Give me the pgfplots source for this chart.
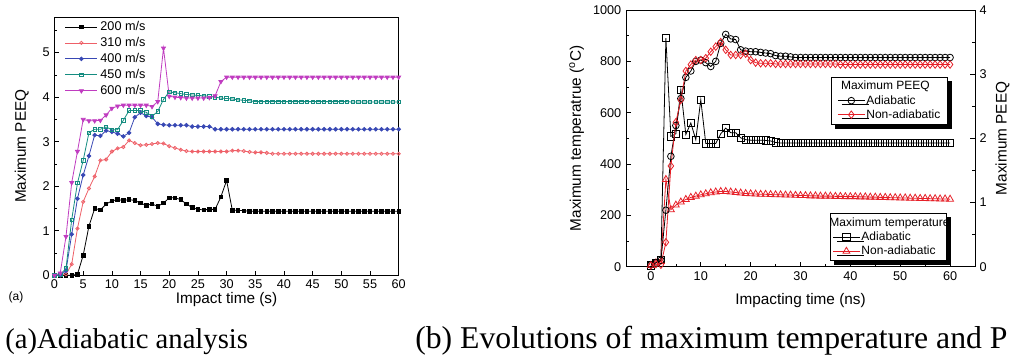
\documentclass[border=0pt]{standalone}
\usepackage{fontspec}
\setmainfont{Liberation Sans}
\newfontfamily\capfont{Liberation Serif}
\usepackage{pgfplots}
\pgfplotsset{compat=1.18}
\usepackage{pgfplotstable}
\definecolor{c310}{RGB}{238,96,104}
\definecolor{c400}{RGB}{56,72,180}
\definecolor{c450}{RGB}{20,140,128}
\definecolor{c600}{RGB}{192,60,192}
\definecolor{rred}{RGB}{230,32,40}

\pgfplotstableread{
t s200 s310 s400 s450 s600
0 0 0 0 0 0
1 0 0 0 0.02 0.05
2 0 0.02 0.10 0.15 0.87
3 0 0.25 0.92 1.25 2.08
4 0.02 1.05 1.72 2.07 2.78
5 0.45 1.65 2.25 2.58 3.50
6 1.10 1.95 2.68 3.20 3.47
7 1.50 2.22 3.15 3.28 3.47
8 1.47 2.58 3.13 3.28 3.48
9 1.60 2.60 3.25 3.33 3.60
10 1.67 2.78 3.22 3.27 3.75
11 1.70 2.85 3.18 3.27 3.80
12 1.68 2.88 3.12 3.48 3.82
13 1.70 3.03 3.20 3.70 3.82
14 1.68 2.97 3.55 3.70 3.82
15 1.62 2.92 3.65 3.70 3.82
16 1.57 2.93 3.58 3.66 3.82
17 1.60 2.95 3.55 3.57 3.79
18 1.55 2.97 3.40 3.68 3.90
19 1.62 2.96 3.38 3.95 5.10
20 1.74 2.90 3.37 4.12 4.02
21 1.74 2.86 3.37 4.10 4.00
22 1.70 2.82 3.37 4.08 3.99
23 1.60 2.79 3.37 4.06 3.98
24 1.52 2.78 3.34 4.05 3.98
25 1.48 2.78 3.34 4.04 3.98
26 1.47 2.78 3.34 4.03 3.98
27 1.48 2.78 3.34 4.02 3.99
28 1.48 2.78 3.28 4.00 4.03
29 1.76 2.78 3.28 3.98 4.35
30 2.13 2.78 3.28 3.97 4.45
31 1.46 2.80 3.28 3.96 4.45
32 1.46 2.80 3.28 3.94 4.45
33 1.45 2.79 3.28 3.93 4.45
34 1.44 2.77 3.28 3.92 4.45
35 1.44 2.76 3.28 3.90 4.45
36 1.44 2.76 3.28 3.90 4.45
37 1.44 2.75 3.28 3.90 4.45
38 1.44 2.73 3.28 3.90 4.45
39 1.44 2.73 3.28 3.90 4.45
40 1.44 2.73 3.28 3.90 4.45
41 1.44 2.73 3.28 3.90 4.45
42 1.44 2.73 3.28 3.90 4.45
43 1.44 2.73 3.28 3.90 4.45
44 1.44 2.73 3.28 3.90 4.45
45 1.44 2.73 3.28 3.90 4.45
46 1.44 2.73 3.28 3.90 4.45
47 1.44 2.73 3.28 3.90 4.45
48 1.44 2.73 3.28 3.90 4.45
49 1.44 2.73 3.28 3.90 4.45
50 1.44 2.73 3.28 3.90 4.45
51 1.44 2.73 3.28 3.90 4.45
52 1.44 2.73 3.28 3.89 4.45
53 1.44 2.73 3.28 3.89 4.45
54 1.44 2.73 3.28 3.89 4.45
55 1.44 2.73 3.28 3.89 4.45
56 1.44 2.73 3.28 3.89 4.45
57 1.44 2.73 3.28 3.89 4.45
58 1.44 2.73 3.28 3.89 4.45
59 1.44 2.73 3.28 3.89 4.45
60 1.44 2.73 3.28 3.89 4.45
}\ltab

\pgfplotstableread{
t Tad Tna Pad Pna
0 5 5 0.03 0.02
1 15 15 0.06 0.04
2 25 20 0.10 0.03
3 890 340 0.88 0.38
4 508 222 1.72 1.57
5 518 240 2.20 2.25
6 690 252 2.62 2.60
7 515 262 2.95 3.05
8 560 270 3.05 3.15
9 495 275 3.20 3.22
10 650 280 3.22 3.22
11 480 284 3.18 3.25
12 480 288 3.12 3.35
13 480 291 3.20 3.43
14 518 293 3.48 3.50
15 540 293 3.62 3.38
16 522 291 3.55 3.30
17 522 289 3.54 3.30
18 502 287 3.38 3.30
19 495 285 3.36 3.32
20 493 284 3.35 3.22
21 493 283 3.35 3.18
22 493 282 3.34 3.17
23 492 282 3.33 3.17
24 490 281 3.32 3.17
25 484 280 3.29 3.16
26 482 280 3.28 3.16
27 482 279 3.28 3.16
28 482 279 3.27 3.16
29 482 278 3.26 3.16
30 482 277 3.26 3.16
31 482 277 3.26 3.16
32 482 276 3.26 3.16
33 482 276 3.26 3.16
34 482 275 3.26 3.16
35 482 275 3.26 3.16
36 482 275 3.26 3.16
37 482 274 3.26 3.16
38 482 274 3.26 3.15
39 482 273 3.26 3.15
40 482 273 3.26 3.15
41 482 273 3.26 3.15
42 482 272 3.26 3.15
43 482 272 3.26 3.15
44 482 271 3.26 3.15
45 482 271 3.26 3.15
46 482 270 3.26 3.15
47 482 270 3.26 3.15
48 482 269 3.26 3.15
49 482 269 3.26 3.15
50 482 268 3.26 3.15
51 482 268 3.26 3.15
52 482 267 3.26 3.15
53 482 267 3.26 3.15
54 482 266 3.26 3.15
55 482 266 3.26 3.15
56 482 265 3.26 3.15
57 482 265 3.26 3.15
58 482 264 3.26 3.15
59 482 264 3.26 3.15
60 482 263 3.26 3.15
}\rtab

\pgfplotsset{
  common/.style={
    scale only axis,
    tick align=inside,
    major tick length=3.5pt, minor tick length=2pt,
    tick style={black, line width=0.5pt},
    axis line style={line width=0.6pt},
    ticklabel style={font=\fontsize{9.5}{11}\selectfont},
    /pgf/number format/assume math mode=true,
    /pgf/number format/1000 sep={},
    label style={font=\fontsize{11.5}{13}\selectfont},
  },
  boxlegend/.style={
    legend style={draw=black, line width=0.8pt, fill=white, font=\fontsize{9}{10}\selectfont,
      inner xsep=1.5pt, inner ysep=1pt, row sep=-1.5pt,
      preaction={fill=black, draw=black, transform canvas={shift={(3pt,-3pt)}}},
      nodes={inner xsep=1pt}},
    legend cell align=left,
    legend image code/.code={\draw[mark repeat=2,mark phase=2, line width=0.6pt] plot coordinates {(0pt,0pt) (10pt,0pt) (20pt,0pt)};},
  },
}

\begin{document}
\begin{tikzpicture}
\useasboundingbox (0,0) rectangle (758.25pt,267pt);
\clip (0,0) rectangle (758.25pt,267pt);

% ---------------- left panel
\begin{axis}[common,
  at={(40.875pt,60.525pt)}, anchor=south west,
  width=258.15pt, height=193.7pt,
  xmin=0, xmax=60, ymin=0, ymax=5.8,
  xtick={0,5,...,60}, ytick={0,1,...,5}, minor ytick={0.5,1.5,...,5.5},
  xtick pos=bottom, ytick pos=left,
  xlabel={Impact time (s)}, ylabel={Maximum PEEQ},
  xlabel style={at={(axis description cs:0.5,-0.092)}, anchor=center},
  ylabel style={at={(axis description cs:-0.095,0.5)}, anchor=center},
  legend style={draw=none, fill=none, at={(axis description cs:0.018,1.005)}, anchor=north west,
    font=\fontsize{9.5}{11}\selectfont, row sep=-0.4pt},
  legend cell align=left,
  legend image code/.code={\draw[mark repeat=2,mark phase=2] plot coordinates {(0pt,0pt) (12pt,0pt) (24pt,0pt)};},
  every axis plot/.append style={line width=0.6pt},
]
\addplot[black, mark=square*, mark size=1.3pt] table[x=t,y=s200]{\ltab};
\addlegendentry{200 m/s}
\addplot[c310, mark=o, mark size=1.2pt] table[x=t,y=s310]{\ltab};
\addlegendentry{310 m/s}
\addplot[c400, mark=*, mark size=1.4pt] table[x=t,y=s400]{\ltab};
\addlegendentry{400 m/s}
\addplot[c450, mark=square, mark size=1.3pt] table[x=t,y=s450]{\ltab};
\addlegendentry{450 m/s}
\addplot[c600, mark=triangle*, mark size=1.7pt, mark options={rotate=180}] table[x=t,y=s600]{\ltab};
\addlegendentry{600 m/s}
\end{axis}

% ---------------- right panel: temperature
\begin{axis}[common, boxlegend,
  at={(469.5pt,66.975pt)}, anchor=south west,
  width=261.75pt, height=192.5pt,
  xmin=-5, xmax=65, ymin=0, ymax=1000,
  xtick={0,10,...,60}, minor xtick={5,15,...,55},
  ytick={0,200,...,1000}, minor ytick={100,300,...,900},
  xtick pos=bottom, ytick pos=left,
  xlabel={Impacting time (ns)}, ylabel={Maximum temperatrue (\textsuperscript{o}C)},
  xlabel style={at={(axis description cs:0.5,-0.13)}, anchor=center},
  ylabel style={at={(axis description cs:-0.141,0.5)}, anchor=center},
  legend style={at={(rel axis cs:0.919,0.208)}, anchor=north east},
]
\addlegendimage{empty legend}
\addlegendentry{\hspace*{-24pt}Maximum temperature\hspace*{-5pt}}
\addplot[black, line width=0.6pt, mark=square, mark size=2.7pt] table[x=t,y=Tad]{\rtab};
\addlegendentry{Adiabatic}
\addplot[rred, line width=0.6pt, mark=triangle, mark size=3pt] table[x=t,y=Tna]{\rtab};
\addlegendentry{Non-adiabatic}
\end{axis}

% ---------------- right panel: PEEQ
\begin{axis}[common, boxlegend,
  at={(469.5pt,66.975pt)}, anchor=south west,
  width=261.75pt, height=192.5pt,
  xmin=-5, xmax=65, ymin=0, ymax=4,
  axis y line*=right, axis x line=none,
  ytick={0,1,...,4}, minor ytick={0.5,1.5,...,3.5},
  ylabel={Maximum PEEQ},
  ylabel style={at={(axis description cs:1.079,0.5)}, anchor=center},
  legend style={at={(rel axis cs:0.9235,0.740)}, anchor=north east, inner xsep=4.5pt},
]
\addlegendimage{empty legend}
\addlegendentry{\hspace*{-19pt}Maximum PEEQ}
\addplot[black, line width=0.6pt, mark=o, mark size=2.5pt] table[x=t,y=Pad]{\rtab};
\addlegendentry{Adiabatic}
\addplot[rred, line width=0.6pt, mark=diamond, mark size=2.8pt] table[x=t,y=Pna]{\rtab};
\addlegendentry{Non-adiabatic}
\end{axis}

\node[font=\fontsize{9}{10}\selectfont] at (12pt,44.25pt) {(a)};
\node[anchor=base west, inner sep=0pt, font=\capfont\fontsize{21.5}{24}\selectfont] at (3.75pt,5.5pt) {(a)Adiabatic analysis};
\node[anchor=base west, inner sep=0pt, font=\capfont\fontsize{23.8}{26}\selectfont] at (311.25pt,5.5pt) {(b) Evolutions of maximum temperature and P};
\end{tikzpicture}
\end{document}
